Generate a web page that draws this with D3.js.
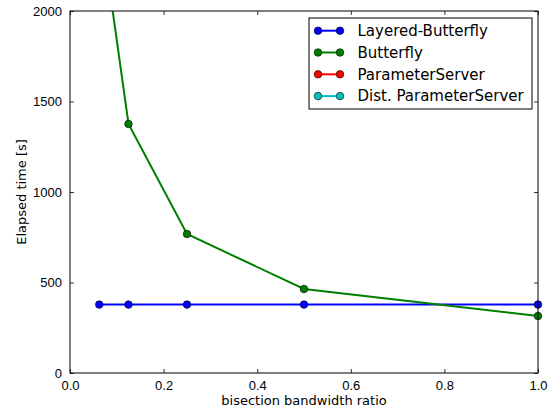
<!DOCTYPE html>
<html>
<head>
<meta charset="utf-8">
<script src="https://cdn.jsdelivr.net/npm/d3@7"></script>
<style>
  body { margin: 0; background: #fff; }
  svg { display: block; font-family: "DejaVu Sans", sans-serif; }
</style>
</head>
<body>
<div id="chart"></div>
<script>
// data
const ratios = [0.0625, 0.125, 0.25, 0.5, 1.0];
const layeredButterfly = [378, 378, 378, 378, 378];
const butterfly = [2530, 1376, 768, 464, 315];
const parameterServer = [];
const distParameterServer = [];

const xTicks = [0, 0.2, 0.4, 0.6, 0.8, 1.0];
const yTicks = [0, 500, 1000, 1500, 2000];

const series = [
  { name: 'Layered-Butterfly', color: '#0000ff', values: layeredButterfly },
  { name: 'Butterfly', color: '#008000', values: butterfly },
  { name: 'ParameterServer', color: '#ff0000', values: parameterServer },
  { name: 'Dist. ParameterServer', color: '#00bfbf', values: distParameterServer }
];

const width = 553, height = 414;
const margin = { left: 70, right: 15, top: 11, bottom: 41 };
const iw = width - margin.left - margin.right;
const ih = height - margin.top - margin.bottom;

const svg = d3.select('#chart').append('svg')
  .attr('width', width)
  .attr('height', height);

const x = d3.scaleLinear().domain([0, 1]).range([0, iw]);
const y = d3.scaleLinear().domain([0, 2000]).range([ih, 0]);

svg.append('defs').append('clipPath').attr('id', 'clip')
  .append('rect').attr('x', -6).attr('y', 0).attr('width', iw + 12).attr('height', ih);

const g = svg.append('g').attr('transform', `translate(${margin.left},${margin.top})`);

// axes with inward ticks on all sides
const axisStyle = sel => {
  sel.select('.domain').remove();
  sel.selectAll('line').attr('stroke', '#000').attr('stroke-width', 0.8);
  sel.selectAll('text').attr('font-size', 13).attr('fill', '#000');
};

g.append('g').attr('transform', `translate(0,${ih})`)
  .call(d3.axisBottom(x).tickValues(xTicks).tickFormat(d3.format('.1f')).tickSizeInner(-4).tickPadding(8))
  .call(axisStyle);
g.append('g')
  .call(d3.axisTop(x).tickValues(xTicks).tickFormat('').tickSizeInner(-4))
  .call(axisStyle);
g.append('g')
  .call(d3.axisLeft(y).tickValues(yTicks).tickFormat(d3.format('d')).tickSizeInner(-4).tickPadding(8))
  .call(axisStyle);
g.append('g').attr('transform', `translate(${iw},0)`)
  .call(d3.axisRight(y).tickValues(yTicks).tickFormat('').tickSizeInner(-4))
  .call(axisStyle);

const plot = g.append('g').attr('clip-path', 'url(#clip)');
const line = d3.line().x(d => x(d[0])).y(d => y(d[1]));

series.forEach(s => {
  const pts = s.values.map((v, i) => [ratios[i], v]);
  plot.append('path')
    .attr('d', line(pts))
    .attr('fill', 'none')
    .attr('stroke', s.color)
    .attr('stroke-width', 2);
  plot.selectAll(null)
    .data(pts.filter(d => d[1] <= 2000))
    .enter().append('circle')
    .attr('cx', d => x(d[0]))
    .attr('cy', d => y(d[1]))
    .attr('r', 3.8)
    .attr('fill', s.color)
    .attr('stroke', '#000')
    .attr('stroke-width', 0.6);
});

// frame
g.append('rect')
  .attr('width', iw).attr('height', ih)
  .attr('fill', 'none').attr('stroke', '#000').attr('stroke-width', 1);

// axis labels
svg.append('text')
  .attr('x', margin.left + iw / 2).attr('y', 405)
  .attr('text-anchor', 'middle').attr('font-size', 13)
  .text('bisection bandwidth ratio');
svg.append('text')
  .attr('transform', `translate(26,${margin.top + ih / 2}) rotate(-90)`)
  .attr('text-anchor', 'middle').attr('font-size', 13)
  .text('Elapsed time [s]');

// legend
const legend = g.append('g').attr('transform', `translate(${309 - margin.left},${18 - margin.top})`);
legend.append('rect')
  .attr('width', 223).attr('height', 91)
  .attr('fill', '#fff').attr('stroke', '#000').attr('stroke-width', 1);
series.forEach((s, i) => {
  const row = legend.append('g').attr('transform', `translate(0,${12.7 + i * 21.8})`);
  row.append('line')
    .attr('x1', 9).attr('x2', 31)
    .attr('stroke', s.color).attr('stroke-width', 2);
  row.selectAll(null).data([9, 31]).enter().append('circle')
    .attr('cx', d => d).attr('r', 3.8)
    .attr('fill', s.color).attr('stroke', '#000').attr('stroke-width', 0.6);
  row.append('text')
    .attr('x', 48.5).attr('dy', '0.35em')
    .attr('font-size', 15)
    .text(s.name);
});
</script>
</body>
</html>
